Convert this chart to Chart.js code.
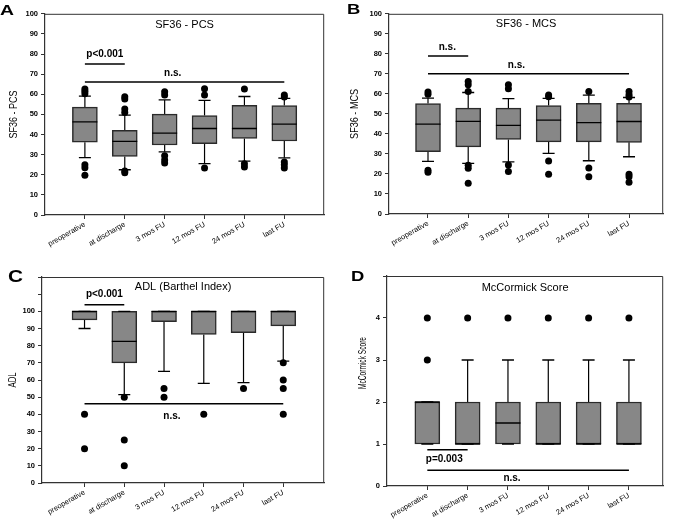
<!DOCTYPE html>
<html>
<head>
<meta charset="utf-8">
<script src="https://cdn.jsdelivr.net/npm/chart.js@4.4.0/dist/chart.umd.min.js"></script>
<style>
body { margin: 0; background: #fff; }
#wrap { position: relative; width: 677px; height: 520px; }
canvas { position: absolute; }
</style>
</head>
<body>
<div id="wrap">
<canvas id="chartA" width="338" height="260" style="left:0;top:0"></canvas>
<canvas id="chartB" width="339" height="260" style="left:338px;top:0"></canvas>
<canvas id="chartC" width="338" height="260" style="left:0;top:260px"></canvas>
<canvas id="chartD" width="339" height="260" style="left:338px;top:260px"></canvas>
</div>
<script>
const FONT = "'Liberation Sans', Arial, Helvetica, sans-serif";
const groups = ['preoperative', 'at discharge', '3 mos FU', '12 mos FU', '24 mos FU', 'last FU'];

// SF36 - PCS
const pcsQ1 = [36.2, 29.1, 34.8, 35.5, 38.0, 36.8];
const pcsMed = [46.3, 36.6, 40.7, 43.0, 43.0, 45.2];
const pcsQ3 = [53.6, 42.1, 50.1, 49.4, 54.5, 54.4];
const pcsLow = [28.5, 22.5, 31.4, 25.5, 26.8, 28.4];
const pcsHigh = [59.1, 49.6, 57.2, 57.0, 58.9, 58.0];
const pcsOut = [
  [62.6, 61.5, 60.3, 25.0, 23.5, 19.7],
  [58.8, 57.6, 52.7, 50.9, 21.9, 21.0],
  [61.2, 59.7, 29.5, 27.3, 25.8],
  [62.7, 59.7, 23.4],
  [62.6, 25.5, 23.9],
  [59.6, 58.7, 26.3, 25.0, 23.4]
];
const pcsSigLines = [[1, 2, 75.0], [1, 6, 66.1]];
const pcsSigText = [['p<0.001', 1.5, 79.8], ['n.s.', 3.2, 70.6]];

// SF36 - MCS
const mcsQ1 = [31.1, 33.5, 37.2, 36.0, 36.0, 35.8];
const mcsMed = [44.9, 46.3, 44.3, 46.9, 45.6, 46.2];
const mcsQ3 = [55.2, 52.9, 52.9, 54.2, 55.3, 55.3];
const mcsLow = [26.3, 25.3, 26.0, 30.3, 26.6, 28.6];
const mcsHigh = [57.9, 60.7, 57.6, 57.8, 59.4, 58.2];
const mcsOut = [
  [61.0, 59.8, 21.9, 20.9],
  [66.2, 64.6, 61.2, 24.4, 22.9, 15.4],
  [64.6, 62.6, 24.5, 21.2],
  [59.5, 58.6, 26.5, 19.9],
  [61.2, 23.0, 18.6],
  [61.2, 59.6, 58.4, 19.8, 18.6, 15.8]
];
const mcsSigLines = [[1, 2, 78.9], [1, 6, 70.1]];
const mcsSigText = [['n.s.', 1.48, 83.4], ['n.s.', 3.2, 74.5]];

// ADL (Barthel Index)
const adlQ1 = [95, 70, 94, 86.5, 87.5, 91.5];
const adlMed = [100, 82.5, 100, 100, 100, 100];
const adlQ3 = [100, 100, 100, 100, 100, 100];
const adlLow = [90, 51.5, 65, 58, 58.5, 71];
const adlHigh = [100, 100, 100, 100, 100, 100];
const adlOut = [[40, 20], [50, 25, 10], [55, 50], [40], [55], [70, 60, 55, 40]];
const adlSigLines = [[1, 2, 103.9], [1, 6, 46.2]];
const adlSigText = [['p<0.001', 1.5, 109.7], ['n.s.', 3.2, 38.8]];

// McCormick Score
const mcQ1 = [1, 1, 1, 1, 1, 1];
const mcMed = [2, 1, 1.5, 1, 1, 1];
const mcQ3 = [2, 2, 2, 2, 2, 2];
const mcLow = [1, 1, 1, 1, 1, 1];
const mcHigh = [2, 3, 3, 3, 3, 3];
const mcOut = [[4, 3], [4], [4], [4], [4], [4]];
const mcSigLines = [[1, 2, 0.866], [1, 6, 0.377]];
const mcSigText = [['p=0.003', 1.42, 0.64], ['n.s.', 3.1, 0.18]];

const yTicks100 = [0, 10, 20, 30, 40, 50, 60, 70, 80, 90, 100];
const yTicks120 = [0, 10, 20, 30, 40, 50, 60, 70, 80, 90, 100, 110, 120];
const yTicks5 = [0, 1, 2, 3, 4, 5];

// frame, titles, letters and p-value labels
const decor = {
  id: 'decor',
  afterDraw(chart, args, o) {
    const ctx = chart.ctx, a = chart.chartArea;
    const sx = chart.scales.x, sy = chart.scales.y;
    ctx.save();
    ctx.strokeStyle = '#333';
    ctx.lineWidth = 1;
    ctx.beginPath();
    ctx.moveTo(a.left, a.top + 0.5);
    ctx.lineTo(a.right - 0.5, a.top + 0.5);
    ctx.lineTo(a.right - 0.5, a.bottom);
    ctx.stroke();

    ctx.fillStyle = '#000';
    ctx.font = '11px ' + FONT;
    ctx.textAlign = 'center';
    ctx.textBaseline = 'middle';
    ctx.fillText(o.title, (a.left + a.right) / 2, a.top + o.titleDy);

    ctx.font = 'bold 10px ' + FONT;
    o.sigText.forEach(t => ctx.fillText(t[0], sx.getPixelForValue(t[1]), sy.getPixelForValue(t[2])));

    ctx.save();
    ctx.font = '11px ' + FONT;
    const tw = ctx.measureText(o.yTitle).width;
    ctx.translate(o.yTitleX, o.yTitleY == null ? (a.top + a.bottom) / 2 : o.yTitleY);
    ctx.rotate(-Math.PI / 2);
    ctx.scale(o.yTitleLen / tw, 1);
    ctx.fillText(o.yTitle, 0, 0);
    ctx.restore();

    ctx.font = 'bold ' + o.letterSize + 'px ' + FONT;
    ctx.textAlign = 'left';
    ctx.textBaseline = 'alphabetic';
    const lw = ctx.measureText(o.letter).width;
    ctx.translate(o.letterX, o.letterY);
    ctx.scale(o.letterW / lw, 1);
    ctx.fillText(o.letter, 0, 0);
    ctx.restore();
  }
};

function makePanel(id, p) {
  const xs = groups.map((g, i) => i + 1);
  const boxes = xs.map((x, i) => ({x: x, y: [p.q1[i], p.q3[i]]}));
  const whisk = [];
  const caps = [];
  const outs = [];
  xs.forEach((x, i) => {
    whisk.push({x: x, y: p.low[i]}, {x: x, y: p.q1[i]}, {x: x, y: null});
    whisk.push({x: x, y: p.q3[i]}, {x: x, y: p.high[i]}, {x: x, y: null});
    caps.push({x: x, y: p.low[i]}, {x: x, y: p.high[i]});
    p.out[i].forEach(v => outs.push({x: x, y: v}));
  });
  const meds = xs.map((x, i) => ({x: x, y: p.med[i]}));

  const datasets = [
    {type: 'bar', data: boxes, backgroundColor: '#878787', borderColor: '#2a2a2a', borderWidth: 1.5,
      borderSkipped: false, barThickness: 25, grouped: false, order: 3},
    {type: 'line', data: whisk, borderColor: '#000', borderWidth: 1.2, pointRadius: 0, spanGaps: false, order: 4},
    {type: 'line', data: meds, showLine: false, pointStyle: 'line', pointRadius: 12.5,
      pointBorderColor: '#000', pointBorderWidth: 1.3, order: 1},
    {type: 'line', data: caps, showLine: false, pointStyle: 'line', pointRadius: 6,
      pointBorderColor: '#000', pointBorderWidth: 1.3, order: 2},
    {type: 'line', data: outs, showLine: false, pointStyle: 'circle', pointRadius: 3.5,
      pointBackgroundColor: '#000', pointBorderColor: '#000', pointBorderWidth: 0, order: 0}
  ];
  p.sigLines.forEach(l => {
    datasets.push({type: 'line', data: [{x: l[0], y: l[2]}, {x: l[1], y: l[2]}],
      borderColor: '#000', borderWidth: 1.5, pointRadius: 0, order: 0});
  });

  const L = p.layout;
  const axisGrid = {display: true, drawOnChartArea: false, drawTicks: true, tickLength: 4, color: '#333', offset: false};
  const axisBorder = {display: true, color: '#333', width: 1.2};

  new Chart(document.getElementById(id), {
    type: 'bar',
    data: {datasets: datasets},
    options: {
      responsive: false,
      animation: false,
      events: [],
      layout: {padding: {left: 0, top: L.top, right: L.w - L.right, bottom: 0}},
      plugins: {
        legend: {display: false},
        tooltip: {enabled: false},
        decor: {
          title: p.title, titleDy: L.titleDy, sigText: p.sigText,
          yTitle: p.yTitle, yTitleX: L.yTitleX, yTitleY: L.yTitleY, yTitleLen: L.yTitleLen,
          letter: p.letter, letterX: L.letterX, letterY: L.letterY, letterSize: L.letterSize, letterW: L.letterW
        }
      },
      scales: {
        x: {
          type: 'linear', min: L.xMin, max: L.xMax, offset: false,
          afterBuildTicks: s => { s.ticks = xs.map(v => ({value: v})); },
          afterFit: s => { s.height = L.h - L.bottom; },
          ticks: {autoSkip: false, minRotation: 30, maxRotation: 30, padding: 1, color: '#000',
            font: {family: FONT, size: 7.5}, callback: v => groups[v - 1]},
          grid: axisGrid,
          border: axisBorder
        },
        y: {
          type: 'linear', min: 0, max: p.yMax,
          afterBuildTicks: s => { s.ticks = p.yTicks.map(v => ({value: v})); },
          afterFit: s => { s.width = L.left; },
          ticks: {color: '#000', padding: 3, font: {family: FONT, size: 7.5, weight: 'bold'},
            callback: v => (v <= p.yLabelMax ? v : '')},
          grid: axisGrid,
          border: axisBorder
        }
      }
    },
    plugins: [decor]
  });
}

makePanel('chartA', {
  title: 'SF36 - PCS', yTitle: 'SF36 - PCS', letter: 'A',
  q1: pcsQ1, med: pcsMed, q3: pcsQ3, low: pcsLow, high: pcsHigh, out: pcsOut,
  sigLines: pcsSigLines, sigText: pcsSigText,
  yMax: 100, yTicks: yTicks100, yLabelMax: 100,
  layout: {w: 338, h: 260, left: 45, right: 332, top: 8, bottom: 215, xMin: 0, xMax: 7,
    titleDy: 11.5, yTitleX: 13.7, yTitleY: null, yTitleLen: 48,
    letterX: 0, letterY: 15, letterSize: 14, letterW: 14}
});

makePanel('chartB', {
  title: 'SF36 - MCS', yTitle: 'SF36 - MCS', letter: 'B',
  q1: mcsQ1, med: mcsMed, q3: mcsQ3, low: mcsLow, high: mcsHigh, out: mcsOut,
  sigLines: mcsSigLines, sigText: mcsSigText,
  yMax: 100, yTicks: yTicks100, yLabelMax: 100,
  layout: {w: 339, h: 260, left: 51, right: 332, top: 9, bottom: 214, xMin: 0.03, xMax: 6.85,
    titleDy: 10, yTitleX: 17, yTitleY: null, yTitleLen: 50,
    letterX: 9, letterY: 14, letterSize: 14, letterW: 13.3}
});

makePanel('chartC', {
  title: 'ADL (Barthel Index)', yTitle: 'ADL', letter: 'C',
  q1: adlQ1, med: adlMed, q3: adlQ3, low: adlLow, high: adlHigh, out: adlOut,
  sigLines: adlSigLines, sigText: adlSigText,
  yMax: 120, yTicks: yTicks120, yLabelMax: 100,
  layout: {w: 338, h: 260, left: 42, right: 332, top: 17, bottom: 223, xMin: -0.07, xMax: 7.03,
    titleDy: 9.7, yTitleX: 13, yTitleY: null, yTitleLen: 15,
    letterX: 8, letterY: 22.3, letterSize: 17, letterW: 15}
});

makePanel('chartD', {
  title: 'McCormick Score', yTitle: 'McCormick Score', letter: 'D',
  q1: mcQ1, med: mcMed, q3: mcQ3, low: mcLow, high: mcHigh, out: mcOut,
  sigLines: mcSigLines, sigText: mcSigText,
  yMax: 5, yTicks: yTicks5, yLabelMax: 4,
  layout: {w: 339, h: 260, left: 49, right: 332, top: 16, bottom: 226, xMin: 0, xMax: 6.85,
    titleDy: 12.3, yTitleX: 24.5, yTitleY: 103, yTitleLen: 52,
    letterX: 13, letterY: 20.7, letterSize: 15.5, letterW: 13.3}
});
</script>
</body>
</html>
